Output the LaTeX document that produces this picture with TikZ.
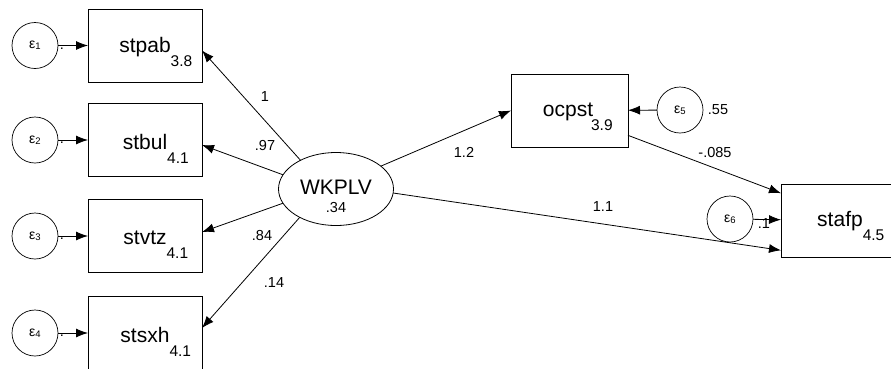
\documentclass[tikz,border=0pt]{standalone}
\usepackage{fontspec}
\setmainfont{Liberation Sans}
\usetikzlibrary{arrows.meta,shapes.geometric,calc}
\begin{document}
\begin{tikzpicture}[x=1pt,y=-1pt,
 every node/.style={inner sep=0pt,outer sep=0pt},
 obs/.style={draw,line width=0.9pt,minimum width=114pt,minimum height=73pt},
 lat/.style={draw,ellipse,line width=0.8pt,minimum width=115pt,minimum height=73pt,font=\fontsize{21}{21}\selectfont},
 err/.style={draw,circle,line width=0.7pt,minimum size=46pt},
 nm/.style={font=\fontsize{21}{21}\selectfont},
 sb/.style={font=\fontsize{15.5}{15.5}\selectfont,anchor=base west},
 lb/.style={font=\fontsize{14.5}{14.5}\selectfont},
 conn/.style={line width=0.8pt,-{Latex[length=12pt,width=9pt]}},
]
\useasboundingbox (0,0) rectangle (891,368);
\newcommand{\epsl}[1]{{\fontsize{14}{14}\selectfont ε}{\fontsize{9.5}{9.5}\selectfont\raisebox{-1pt}{#1}}}

% latent
\node[lat] (W) at (336,189) {\raisebox{4pt}{WKPLV}};
\node[lb] (Wv) at (336,208) {.34};

% indicators
\foreach \n/\y/\s/\e in {stpab/45.5/3.8/1, stbul/140/4.1/2, stvtz/236/4.1/3, stsxh/333/4.1/4} {
 \node[obs] (\n) at (145,\y) {};
 \node[nm] (\n N) at (145,\y+2) {\n};
 \node[sb] (\n S) at ($(\n N.base east)+(0,14)$) {\s};
 \node[lb] (v\e) at (62,\y+3) {.};
 \node[err] (e\e) at (35,\y) {\epsl{\e}};
 \draw[conn] (e\e) -- (\n);
}

% loadings
\draw[conn] (W.141) -- (stpab.-5);
\draw[conn] (W.165) -- (stbul.-5);
\draw[conn] (W.195) -- (stvtz.4);
\draw[conn] (W.218) -- (stsxh.5);
\node[lb] (l1) at (265,97) {1};
\node[lb] (l2) at (265,146) {.97};
\node[lb] (l3) at (262,236) {.84};
\node[lb] (l4) at (274,283) {.14};

% ocpst
\node[obs,minimum width=117pt] (oc) at (569.5,110.5) {};
\node[nm] (ocN) at (568,112) {ocpst};
\node[sb] (ocS) at ($(ocN.base east)+(-2,14)$) {3.9};
\node[err] (e5) at (680,110) {\epsl{5}};
\node[lb] (v5) at (718,110) {.55};
\draw[conn] (e5) -- (oc);

% stafp
\node[obs,minimum width=117pt] (sf) at (839.5,220.5) {};
\node[nm] (sfN) at (840,221) {stafp};
\node[sb] (sfS) at ($(sfN.base east)+(0,14)$) {4.5};
\node[lb] (v6) at (764,224) {.1};
\node[err] (e6) at (730,219) {\epsl{6}};
\draw[conn] (e6) -- (sf);

% structural paths
\draw[conn] (W.27) -- (oc.west);
\draw[conn] (W.356) -- (sf.207);
\draw[conn] (oc.-23) -- (sf.155);
\node[lb] (p1) at (464,152) {1.2};
\node[lb] (p2) at (603,207) {1.1};
\node[lb] (p3) at (715,153) {-.085};
\end{tikzpicture}
\end{document}
